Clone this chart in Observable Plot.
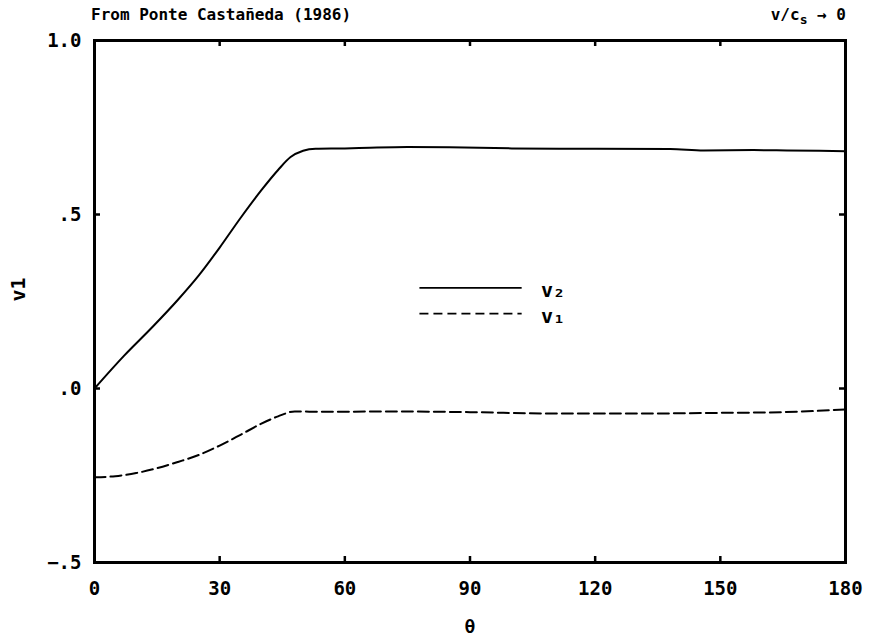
<!DOCTYPE html>
<html>
<head>
<meta charset="utf-8">
<script src="https://cdn.jsdelivr.net/npm/d3@7"></script>
<script src="https://cdn.jsdelivr.net/npm/@observablehq/plot@0.6"></script>
<style>
  html, body { margin: 0; padding: 0; background: #fff; }
  #wrap { position: relative; width: 872px; height: 641px; font-family: "DejaVu Sans Mono", monospace; font-weight: bold; color: #000; }
  .hdr { position: absolute; top: 7px; font-size: 16px; line-height: 1; white-space: nowrap; }
  #title { left: 91px; }
  #cond { right: 26px; }
  #cond sub { font-size: 13px; vertical-align: -4px; }
  svg { display: block; }
</style>
</head>
<body>
<div id="wrap">
  <div class="hdr" id="title">From Ponte Castañeda (1986)</div>
  <div class="hdr" id="cond">v/c<sub>s</sub> → 0</div>
</div>
<script>
// Angle θ (degrees) and the two response curves
const theta2 = [0, 7, 14, 20, 25, 30, 35, 40, 44, 47, 50, 53, 60, 66, 75, 85, 100, 116, 138, 146, 158, 166, 180];
const v2 = [0, 0.093, 0.178, 0.255, 0.325, 0.405, 0.49, 0.57, 0.628, 0.665, 0.683, 0.689, 0.690, 0.692, 0.694, 0.693, 0.690, 0.689, 0.688, 0.684, 0.685, 0.684, 0.682];

const theta1 = [0, 5, 10, 15, 20, 25, 30, 35, 40, 44, 48, 55, 70, 90, 110, 130, 150, 165, 180];
const v1 = [-0.255, -0.252, -0.243, -0.229, -0.211, -0.191, -0.164, -0.133, -0.101, -0.080, -0.066, -0.067, -0.066, -0.068, -0.072, -0.072, -0.070, -0.068, -0.060];

// Axis ticks and their printed labels
const xTicks = [0, 30, 60, 90, 120, 150, 180];
const yTicks = [-0.5, 0, 0.5, 1.0];
const yTickLabels = ["−.5", ".0", ".5", "1.0"];

// Legend entries
const legendNames = ["v₂", "v₁"];
const legendLevels = [0.289, 0.215];
const legendSpan = [78, 102.5];
const legendTextAt = 107;

const width = 872, height = 641;
const margin = {top: 40, right: 27, bottom: 79, left: 94};
const innerW = width - margin.left - margin.right;
const innerH = height - margin.top - margin.bottom;
const tickLen = 6;

const rows2 = theta2.map((t, i) => ({theta: t, v: v2[i]}));
const rows1 = theta1.map((t, i) => ({theta: t, v: v1[i]}));
const yLabelOf = new Map(yTicks.map((t, i) => [t, yTickLabels[i]]));
const legend = legendNames.map((name, i) => ({name, y: legendLevels[i]}));

const chart = Plot.plot({
  width, height,
  marginTop: margin.top, marginRight: margin.right,
  marginBottom: margin.bottom, marginLeft: margin.left,
  style: {fontFamily: "DejaVu Sans Mono", fontWeight: "bold", color: "#000", background: "#fff"},
  x: {domain: [0, 180]},
  y: {domain: [-0.5, 1.0]},
  marks: [
    // tick labels
    Plot.axisX({ticks: xTicks, tickSize: 0, tickPadding: 19, fontSize: 19, label: null}),
    Plot.axisY({ticks: yTicks, tickSize: 0, tickPadding: 13, fontSize: 19, label: null,
                tickFormat: d => yLabelOf.get(d)}),
    // inward tick marks on all four sides
    Plot.tickX(xTicks.slice(1, -1), {stroke: "#000", strokeWidth: 2.5, insetTop: innerH - tickLen}),
    Plot.tickX(xTicks.slice(1, -1), {stroke: "#000", strokeWidth: 2.5, insetBottom: innerH - tickLen}),
    Plot.tickY(yTicks.slice(1, -1), {stroke: "#000", strokeWidth: 2.5, insetRight: innerW - tickLen}),
    Plot.tickY(yTicks.slice(1, -1), {stroke: "#000", strokeWidth: 2.5, insetLeft: innerW - tickLen}),
    // curves
    Plot.line(rows2, {x: "theta", y: "v", curve: "monotone-x", stroke: "#000", strokeWidth: 2}),
    Plot.line(rows1, {x: "theta", y: "v", curve: "monotone-x", stroke: "#000", strokeWidth: 2,
                      strokeDasharray: "11,5"}),
    // legend
    Plot.ruleY([legend[0]], {y: "y", x1: legendSpan[0], x2: legendSpan[1], stroke: "#000", strokeWidth: 1.8}),
    Plot.ruleY([legend[1]], {y: "y", x1: legendSpan[0], x2: legendSpan[1], stroke: "#000", strokeWidth: 1.8,
                             strokeDasharray: "9,5"}),
    Plot.text(legend, {x: legendTextAt, y: "y", text: "name", textAnchor: "start", fontSize: 20, dy: 3}),
    // axis titles
    Plot.text(["θ"], {frameAnchor: "bottom", dy: 70, fontSize: 18}),
    Plot.text(["v1"], {frameAnchor: "left", dx: -76, rotate: -90, fontSize: 20}),
    Plot.frame({stroke: "#000", strokeWidth: 3})
  ]
});

const wrap = document.getElementById("wrap");
chart.style.position = "absolute";
chart.style.left = "0px";
chart.style.top = "0px";
wrap.insertBefore(chart, wrap.firstChild);
</script>
</body>
</html>
